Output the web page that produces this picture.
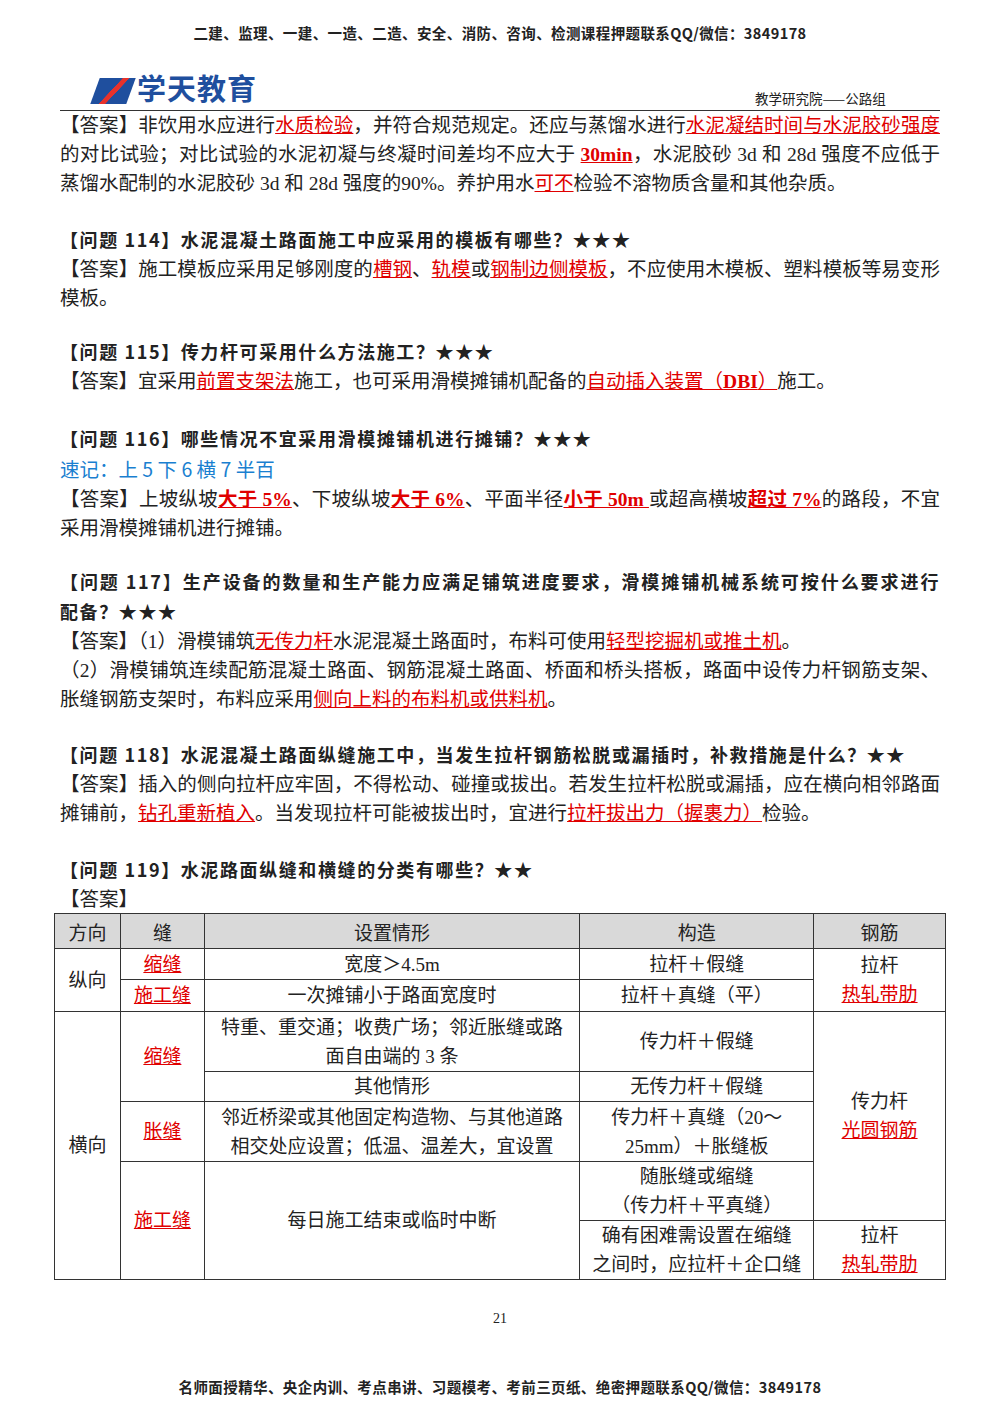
<!DOCTYPE html>
<html><head><meta charset="utf-8">
<script src="https://cdn.jsdelivr.net/npm/chart.js@4"></script>
<style>
body{margin:0;background:#fff;font-family:"Liberation Serif","Noto Sans CJK SC",serif;color:#222;}
#page{position:relative;width:1000px;height:1414px;overflow:hidden;}
.abs{position:absolute;}
.p{position:absolute;left:60px;width:880px;font-size:19.5px;line-height:29px;text-align:justify;}
.q{font-weight:bold;font-family:"Noto Sans CJK SC",sans-serif;font-size:18px;letter-spacing:1.6px;}
.r{color:#e00000;text-decoration:underline;font-weight:normal;}
.rb{color:#e00000;text-decoration:underline;font-weight:bold;}
.hdr{font-family:"Noto Sans CJK SC",sans-serif;font-weight:bold;font-size:14.5px;text-align:center;width:1000px;left:0;letter-spacing:0.4px;}
table{position:absolute;left:54px;top:913px;width:892px;border-collapse:collapse;font-size:19px;}
td{border:1px solid #333;text-align:center;line-height:29px;padding:0 4px;}
th{border:1px solid #333;background:#d9d9d9;font-weight:normal;height:32px;font-size:19px;}
</style></head><body>
<div id="page">
<div class="abs hdr" style="top:22px">二建、监理、一建、一造、二造、安全、消防、咨询、检测课程押题联系QQ/微信：3849178</div>
<div class="abs" style="left:95px;top:66px;font-family:'Noto Sans CJK SC';font-weight:bold;font-size:29px;color:#1f4f9e;letter-spacing:1px">
<span style="display:inline-block;width:36px;height:26px;vertical-align:-4px;background:linear-gradient(120deg,#1f4f9e 45%,#e8322b 46%,#e8322b 58%,#1f4f9e 59%);transform:skewX(-20deg);margin-right:6px"></span>学天教育</div>
<div class="abs" style="left:755px;top:88px;font-size:13.5px;font-family:'Noto Sans CJK SC'">教学研究院——公路组</div>
<div class="abs" style="left:60px;top:110px;width:880px;border-top:1.5px solid #333"></div>

<div class="p" style="top:111px">【答案】非饮用水应进行<span class="r">水质检验</span>，并符合规范规定。还应与蒸馏水进行<span class="r">水泥凝结时间与水泥胶砂强度</span>的对比试验；对比试验的水泥初凝与终凝时间差均不应大于 <span class="rb">30min</span>，水泥胶砂 3d 和 28d 强度不应低于蒸馏水配制的水泥胶砂 3d 和 28d 强度的90%。养护用水<span class="r">可不</span>检验不溶物质含量和其他杂质。</div>

<div class="p" style="top:225px"><span class="q">【问题 114】水泥混凝土路面施工中应采用的模板有哪些？★★★</span><br>【答案】施工模板应采用足够刚度的<span class="r">槽钢</span>、<span class="r">轨模</span>或<span class="r">钢制边侧模板</span>，不应使用木模板、塑料模板等易变形模板。</div>

<div class="p" style="top:337px"><span class="q">【问题 115】传力杆可采用什么方法施工？★★★</span><br>【答案】宜采用<span class="r">前置支架法</span>施工，也可采用滑模摊铺机配备的<span class="r">自动插入装置（<b>DBI</b>）</span>施工。</div>

<div class="p" style="top:424px"><span class="q">【问题 116】哪些情况不宜采用滑模摊铺机进行摊铺？★★★</span><br><span style="color:#1a7fd0;font-family:'Noto Sans CJK SC'">速记：上 5 下 6 横 7 半百</span><br>【答案】上坡纵坡<span class="rb">大于 5%</span>、下坡纵坡<span class="rb">大于 6%</span>、平面半径<span class="rb">小于 50m </span>或超高横坡<span class="rb">超过 7%</span>的路段，不宜采用滑模摊铺机进行摊铺。</div>

<div class="p" style="top:567px"><span class="q">【问题 117】生产设备的数量和生产能力应满足铺筑进度要求，滑模摊铺机械系统可按什么要求进行配备？★★★</span><br>【答案】（1）滑模铺筑<span class="r">无传力杆</span>水泥混凝土路面时，布料可使用<span class="r">轻型挖掘机或推土机</span>。<br>（2）滑模铺筑连续配筋混凝土路面、钢筋混凝土路面、桥面和桥头搭板，路面中设传力杆钢筋支架、胀缝钢筋支架时，布料应采用<span class="r">侧向上料的布料机或供料机</span>。</div>

<div class="p" style="top:740px"><span class="q">【问题 118】水泥混凝土路面纵缝施工中，当发生拉杆钢筋松脱或漏插时，补救措施是什么？★★</span><br>【答案】插入的侧向拉杆应牢固，不得松动、碰撞或拔出。若发生拉杆松脱或漏插，应在横向相邻路面摊铺前，<span class="r">钻孔重新植入</span>。当发现拉杆可能被拔出时，宜进行<span class="r">拉杆拔出力（握裹力）</span>检验。</div>

<div class="p" style="top:855px"><span class="q">【问题 119】水泥路面纵缝和横缝的分类有哪些？★★</span><br>【答案】</div>

<table id="tbl"></table>

<div class="abs" style="left:0;width:1000px;text-align:center;top:1311px;font-size:14px">21</div>
<div class="abs hdr" style="top:1376px">名师面授精华、央企内训、考点串讲、习题模考、考前三页纸、绝密押题联系QQ/微信：3849178</div>
<canvas id="c" width="1" height="1" style="display:none"></canvas>
</div>
<script>
// 表头与各行数据
const headers = ["方向","缝","设置情形","构造","钢筋"];
const colWidths = [66,84,376,234,132];
const rowHeights = [31,32,60,30,60,59,59];
// 每格: [文字, rowspan, 是否红色]
const rows = [
  [["纵向",2],["缩缝",1,1],["宽度＞4.5m",1],["拉杆＋假缝",1],["拉杆<br><span class='r'>热轧带肋</span>",2]],
  [["施工缝",1,1],["一次摊铺小于路面宽度时",1],["拉杆＋真缝（平）",1]],
  [["横向",5],["缩缝",2,1],["特重、重交通；收费广场；邻近胀缝或路<br>面自由端的 3 条",1],["传力杆＋假缝",1],["传力杆<br><span class='r'>光圆钢筋</span>",4]],
  [["其他情形",1],["无传力杆＋假缝",1]],
  [["胀缝",1,1],["邻近桥梁或其他固定构造物、与其他道路<br>相交处应设置；低温、温差大，宜设置",1],["传力杆＋真缝（20～<br>25mm）＋胀缝板",1]],
  [["施工缝",2,1],["每日施工结束或临时中断",2],["随胀缝或缩缝<br>（传力杆＋平真缝）",1]],
  [["确有困难需设置在缩缝<br>之间时，应拉杆＋企口缝",1],["拉杆<br><span class='r'>热轧带肋</span>",1]]
];
let html = "<colgroup>"+colWidths.map(w=>`<col style="width:${w}px">`).join('')+"</colgroup>";
html += "<tr>"+headers.map(h=>`<th>${h}</th>`).join('')+"</tr>";
rows.forEach((r,i)=>{
  html += `<tr style="height:${rowHeights[i]}px">`+r.map(c=>
    `<td rowspan="${c[1]}">${c[2]?`<span class="r">${c[0]}</span>`:c[0]}</td>`).join('')+"</tr>";
});
document.getElementById("tbl").innerHTML = html;
</script>
</body></html>
